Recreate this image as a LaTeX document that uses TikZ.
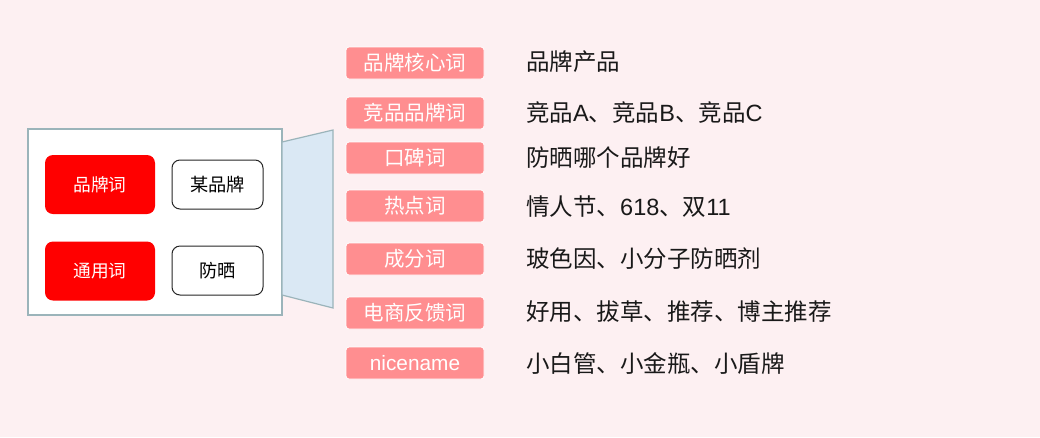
\documentclass[tikz,border=0pt]{standalone}
\usepackage{fontspec}
\setmainfont{Liberation Sans}
\newfontfamily\cjk{Noto Sans CJK SC}
\newcommand{\lt}[1]{{\rmfamily #1}}
\definecolor{bg}{HTML}{FDF0F2}
\definecolor{labfill}{HTML}{FF8E90}
\definecolor{frame}{HTML}{9BB4BA}
\definecolor{trap}{HTML}{DAE8F4}
\tikzset{
  lab/.style={draw=white, line width=0.8pt, fill=labfill, rounded corners=3pt,
    minimum width=138pt, minimum height=32pt, inner sep=0pt, text=white,
    font=\cjk\fontsize{20.5}{22}\selectfont},
  val/.style={anchor=west, inner sep=0pt, text=black!90,
    font=\cjk\fontsize{23.5}{26}\selectfont},
  redbox/.style={fill=red, rounded corners=8pt, minimum width=110pt, minimum height=59pt,
    inner sep=0pt, text=white, font=\cjk\fontsize{17.7}{19}\selectfont},
  wbox/.style={draw=black!85, line width=1pt, fill=white, rounded corners=8pt,
    minimum width=91pt, minimum height=49pt, inner sep=0pt, text=black,
    font=\cjk\fontsize{18.2}{20}\selectfont},
}
\begin{document}
\begin{tikzpicture}[x=1pt,y=-1pt]
\useasboundingbox (0,0) rectangle (1040,437);
\fill[bg] (0,0) rectangle (1040,437);
% left frame
\draw[frame, line width=1.2pt, fill=white] (28,129) rectangle (282,315);
\draw[frame, line width=1.2pt, fill=trap] (282,142) -- (333,130) -- (333,308) -- (282,295) -- cycle;
\node[redbox] (pp) at (100,184.5) {品牌词};
\node[redbox] (ty) at (100,271) {通用词};
\node[wbox] (mp) at (217.5,184.5) {某品牌};
\node[wbox] (fs) at (217.5,270.5) {防晒};
% labels
\node[lab] (l1) at (415,63) {品牌核心词};
\node[lab] (l2) at (415,113) {竞品品牌词};
\node[lab] (l3) at (415,158) {口碑词};
\node[lab] (l4) at (415,206) {热点词};
\node[lab] (l5) at (415,259) {成分词};
\node[lab] (l6) at (415,313) {电商反馈词};
\node[lab, font=\rmfamily\fontsize{20.8}{22}\selectfont] (l7) at (415,363) {nicename};
% values
\node[val] (v1) at (526,62) {品牌产品};
\node[val] (v2) at (526,113) {竞品\lt{A}、竞品\lt{B}、竞品\lt{C}};
\node[val] (v3) at (526,158) {防晒哪个品牌好};
\node[val] (v4) at (526,207) {情人节、\lt{618}、双\lt{11}};
\node[val] (v5) at (526,259) {玻色因、小分子防晒剂};
\node[val] (v6) at (526,312) {好用、拔草、推荐、博主推荐};
\node[val] (v7) at (526,363) {小白管、小金瓶、小盾牌};
\end{tikzpicture}
\end{document}
